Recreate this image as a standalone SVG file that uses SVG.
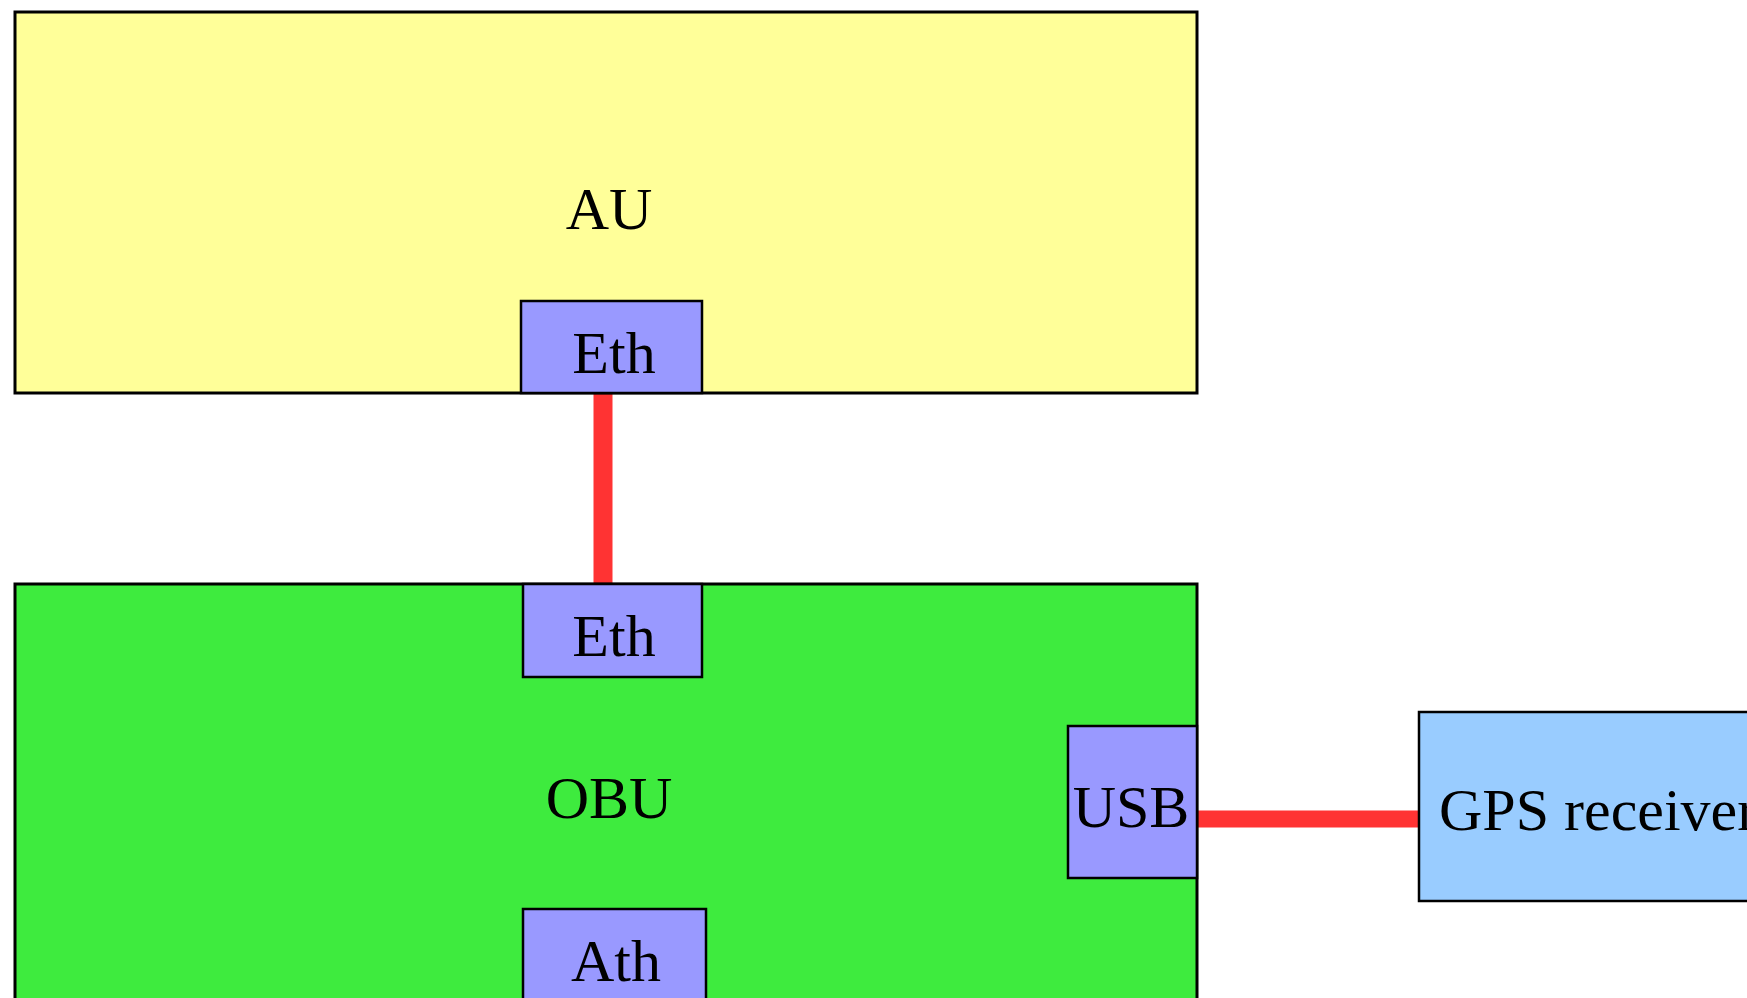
<svg xmlns="http://www.w3.org/2000/svg" width="1747" height="998" viewBox="0 0 1747 998">
<style>
.box{stroke:#000;stroke-width:3}
.port{fill:#9999FF;stroke:#000;stroke-width:2.5}
.lbl{font-family:"Liberation Serif","Times New Roman",serif;font-size:60px;fill:#000;text-anchor:middle}
.wire{stroke:#FF3333;fill:none}
</style>
<rect width="1747" height="998" fill="#fff"/>
<g id="connectors">
<line class="wire" x1="603" y1="393" x2="603" y2="584" stroke-width="19"/>
<line class="wire" x1="1197" y1="819" x2="1419" y2="819" stroke-width="17"/>
</g>
<g id="AU">
<rect class="box" x="15" y="12" width="1182" height="381" fill="#FFFF99"/>
<text class="lbl" x="609" y="229">AU</text>
</g>
<g id="AU-Eth">
<rect class="port" x="521" y="301" width="181" height="92"/>
<text class="lbl" x="614" y="373">Eth</text>
</g>
<g id="OBU">
<rect class="box" x="15" y="584" width="1182" height="430" fill="#3EEB3E"/>
<text class="lbl" x="609" y="818">OBU</text>
</g>
<g id="OBU-Eth">
<rect class="port" x="523" y="584" width="179" height="93"/>
<text class="lbl" x="614" y="656">Eth</text>
</g>
<g id="OBU-USB">
<rect class="port" x="1068" y="726" width="129" height="152"/>
<text class="lbl" x="1131" y="827">USB</text>
</g>
<g id="OBU-Ath">
<rect class="port" x="523" y="909" width="183" height="120"/>
<text class="lbl" x="616" y="981">Ath</text>
</g>
<g id="GPS">
<rect class="port" x="1419" y="712" width="360" height="189" fill="#99CCFF" style="fill:#99CCFF"/>
<text class="lbl" x="1439" y="830" style="text-anchor:start">GPS receiver</text>
</g>
</svg>
